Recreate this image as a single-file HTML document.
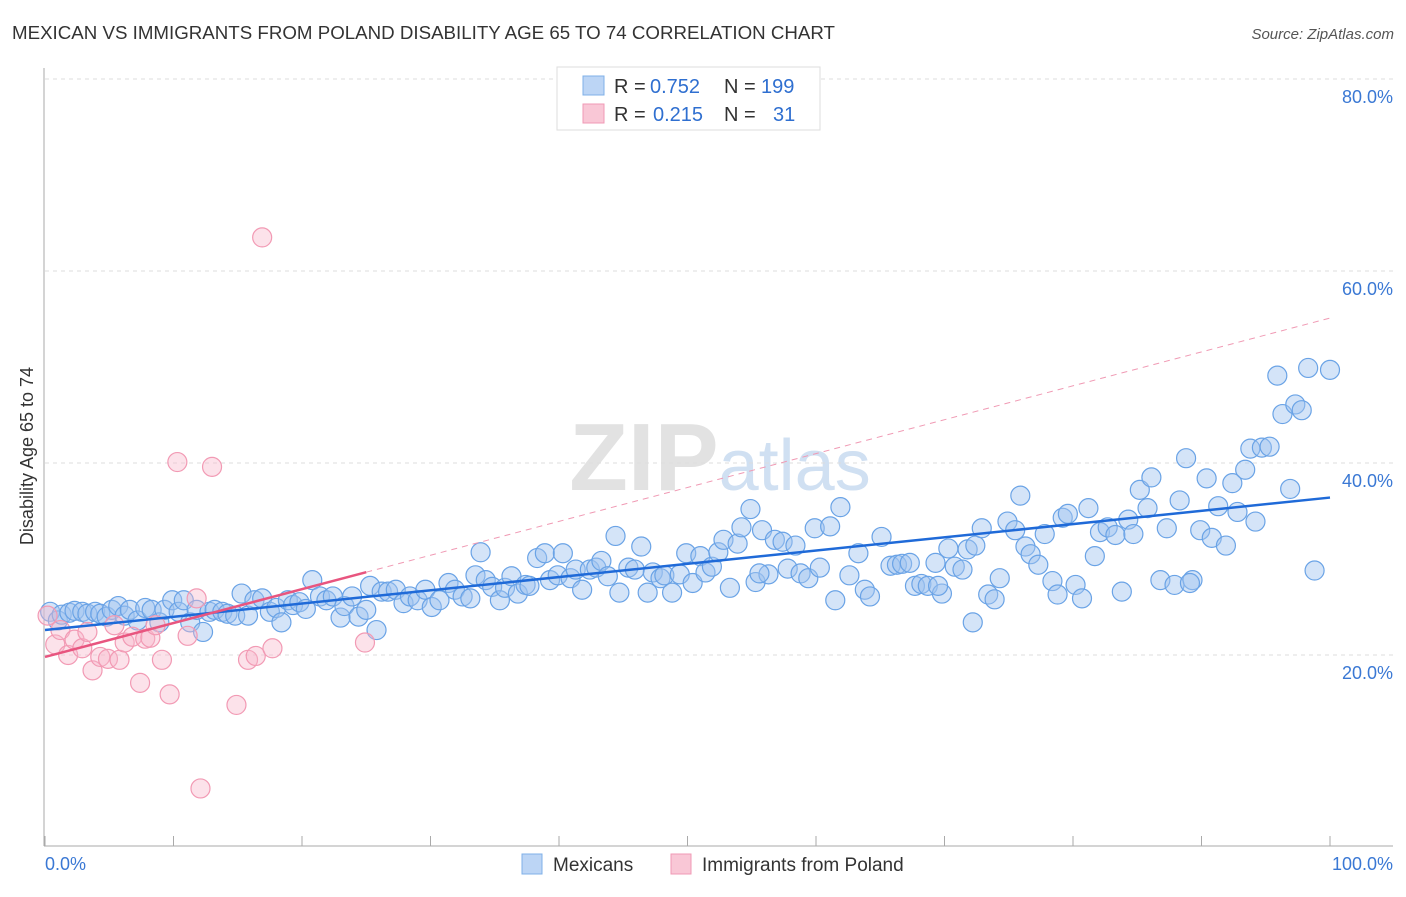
<!DOCTYPE html>
<html><head><meta charset="utf-8"><style>
body{margin:0;background:#fff;font-family:"Liberation Sans",sans-serif;}
svg text{font-family:"Liberation Sans",sans-serif;}
</style></head><body>
<svg id="chart" width="1406" height="892" viewBox="0 0 1406 892" xmlns="http://www.w3.org/2000/svg">
<text x="12" y="39" font-size="18" fill="#333" textLength="823" lengthAdjust="spacingAndGlyphs">MEXICAN VS IMMIGRANTS FROM POLAND DISABILITY AGE 65 TO 74 CORRELATION CHART</text>
<text x="1394" y="39" font-size="15" fill="#555" font-style="italic" text-anchor="end">Source: ZipAtlas.com</text>
<text x="720" y="490" font-size="96" fill="#e2e2e2" text-anchor="middle" font-family="Liberation Serif"><tspan font-weight="bold">ZIP</tspan><tspan fill="#d0e0f2" font-family="Liberation Sans" font-size="72">atlas</tspan></text>
<g id="grid"></g>
<g id="axes"></g>
<g id="pts"></g>
<g id="trends"></g>
<text transform="translate(33,456) rotate(-90)" font-size="18" fill="#333" text-anchor="middle">Disability Age 65 to 74</text>
<g>
<rect x="557" y="67" width="263" height="63" fill="#fff" stroke="#ddd"/>
<rect x="583" y="76" width="21" height="19" fill="#bcd5f5" stroke="#7fb0e8"/>
<rect x="583" y="104" width="21" height="19" fill="#f9c7d6" stroke="#f09ab5"/>
<text x="614" y="93" font-size="20" fill="#333">R =</text>
<text x="650" y="93" font-size="20" fill="#2f6fd0">0.752</text>
<text x="724" y="93" font-size="20" fill="#333">N =</text>
<text x="761" y="93" font-size="20" fill="#2f6fd0">199</text>
<text x="614" y="121" font-size="20" fill="#333">R =</text>
<text x="653" y="121" font-size="20" fill="#2f6fd0">0.215</text>
<text x="724" y="121" font-size="20" fill="#333">N =</text>
<text x="773" y="121" font-size="20" fill="#2f6fd0">31</text>
</g>
<g>
<rect x="522" y="854" width="20" height="20" fill="#bcd5f5" stroke="#7fb0e8"/>
<text x="553" y="871" font-size="19" fill="#333">Mexicans</text>
<text x="702" y="871" font-size="19" fill="#333">Immigrants from Poland</text>
<rect x="671" y="854" width="20" height="20" fill="#f9c7d6" stroke="#f09ab5"/>
</g>
</svg>
<script>
const blueX=[0.4,1.0,1.3,1.9,2.3,2.9,3.3,3.9,4.3,4.8,5.2,5.7,6.2,6.6,7.2,7.8,8.3,8.9,9.3,9.9,10.4,10.8,11.3,11.8,12.3,12.8,13.2,13.8,14.2,14.8,15.3,15.8,16.3,16.9,17.5,18.0,18.4,18.9,19.3,19.8,20.3,20.8,21.4,21.9,22.4,23.0,23.3,23.9,24.4,25.0,25.3,25.8,26.2,26.7,27.3,27.9,28.4,29.0,29.6,30.1,30.7,31.4,31.9,32.5,33.1,33.5,33.9,34.3,34.8,35.4,35.8,36.3,36.8,37.4,37.7,38.3,38.9,39.3,39.9,40.3,40.9,41.3,41.8,42.4,42.9,43.3,43.8,44.4,44.7,45.4,45.9,46.4,46.9,47.3,47.9,48.2,48.8,49.4,49.9,50.4,51.0,51.4,51.9,52.4,52.8,53.3,53.9,54.2,54.9,55.3,55.8,56.3,56.8,57.4,57.8,58.4,58.8,59.4,59.9,60.3,61.1,61.5,61.9,62.6,63.3,63.8,64.2,65.1,65.8,66.3,66.7,67.3,67.7,68.2,68.7,69.3,69.8,70.3,70.8,71.4,71.8,72.4,72.9,73.4,73.9,74.3,74.9,75.5,75.9,76.3,76.7,77.3,77.8,78.4,78.8,79.2,79.6,80.2,80.7,81.2,81.7,82.1,82.7,83.3,83.8,84.3,84.7,85.2,85.8,86.1,86.8,87.3,87.9,88.3,88.8,89.3,89.9,90.4,90.8,91.3,91.9,92.4,92.8,93.4,93.8,94.2,94.7,95.3,95.9,96.3,96.9,97.3,97.8,98.3,98.8,100.0,72.2,69.5,55.6,89.1];
const blueY=[24.5,23.6,24.2,24.4,24.6,24.5,24.3,24.5,24.3,24.0,24.7,25.1,24.1,24.7,23.6,24.9,24.7,23.4,24.7,25.7,24.5,25.7,23.4,24.7,22.4,24.5,24.7,24.5,24.3,24.1,26.4,24.1,25.7,25.9,24.5,24.9,23.4,25.7,25.2,25.5,24.8,27.8,26.1,25.7,26.1,23.9,25.1,26.1,24.0,24.7,27.2,22.6,26.6,26.6,26.8,25.4,26.1,25.7,26.8,25.0,25.7,27.5,26.8,26.1,25.9,28.3,30.7,27.8,27.1,25.7,27.0,28.2,26.4,27.3,27.2,30.1,30.6,27.8,28.3,30.6,28.0,28.9,26.8,28.9,29.1,29.8,28.2,32.4,26.5,29.1,28.9,31.3,26.5,28.6,28.0,28.3,26.5,28.4,30.6,27.5,30.3,28.6,29.2,30.7,32.0,27.0,31.6,33.3,35.2,27.6,33.0,28.4,32.0,31.8,29.0,31.4,28.5,28.0,33.2,29.1,33.4,25.7,35.4,28.3,30.6,26.8,26.1,32.3,29.3,29.4,29.5,29.6,27.2,27.4,27.2,29.6,26.4,31.1,29.2,28.9,31.0,31.4,33.2,26.3,25.8,28.0,33.9,33.0,36.6,31.3,30.5,29.4,32.6,27.7,26.3,34.3,34.7,27.3,25.9,35.3,30.3,32.8,33.3,32.5,26.6,34.1,32.6,37.2,35.3,38.5,27.8,33.2,27.3,36.1,40.5,27.8,33.0,38.4,32.2,35.5,31.4,37.9,34.9,39.3,41.5,33.9,41.6,41.7,49.1,45.1,37.3,46.1,45.5,49.9,28.8,49.7,23.4,27.2,28.5,27.5];
const pinkX=[0.2,0.8,1.2,1.8,2.3,2.9,3.3,3.7,4.3,4.9,5.4,5.8,6.2,6.8,7.4,7.8,8.2,8.6,9.1,9.7,10.3,11.1,11.8,12.1,13.0,14.9,15.8,16.4,16.9,17.7,24.9];
const pinkY=[24.1,21.1,22.6,20.0,21.6,20.7,22.4,18.4,19.8,19.6,23.1,19.5,21.3,21.9,17.1,21.7,21.8,23.1,19.5,15.9,40.1,22.0,25.9,6.1,39.6,14.8,19.5,19.9,63.5,20.7,21.3];
const blueTrend=[22.6,36.4];
const pinkTrend=[19.8,55.1];
const pinkSolidEnd=25;
const yTicks=[20,40,60,80];
const xTickLabels=["0.0%","100.0%"];

const NS="http://www.w3.org/2000/svg";
const sx=v=>45+v*12.85, sy=v=>847-v*9.6;
function mk(tag,attrs,parent){const e=document.createElementNS(NS,tag);for(const k in attrs)e.setAttribute(k,attrs[k]);parent.appendChild(e);return e;}
const grid=document.getElementById('grid'),axes=document.getElementById('axes'),pts=document.getElementById('pts'),tr=document.getElementById('trends');
yTicks.forEach(t=>{
  const l=mk('line',{x1:45,x2:1393,y1:sy(t),y2:sy(t),stroke:'#ddd','stroke-dasharray':'4,4'},grid);
  
  
  const tx=mk('text',{x:1393,y:sy(t)+24,'font-size':18,fill:'#3a78d4','text-anchor':'end'},grid);
  tx.textContent=t.toFixed(1)+'%';
  
  
});
const ya=mk('line',{x1:44,x2:44,y1:68,y2:846,stroke:'#aaa'},axes);


const xa=mk('line',{x1:44,x2:1393,y1:846,y2:846,stroke:'#aaa'},axes);


for(let i=0;i<=10;i++){
  const t=mk('line',{x1:sx(i*10),x2:sx(i*10),y1:836,y2:846,stroke:'#aaa'},axes);
  
  
}
const xl0=mk('text',{x:45,y:870,'font-size':18,fill:'#3a78d4'},axes);xl0.textContent=xTickLabels[0];


const xl1=mk('text',{x:1393,y:870,'font-size':18,fill:'#3a78d4','text-anchor':'end'},axes);xl1.textContent=xTickLabels[1];


blueX.forEach((x,i)=>{
  const c=mk('circle',{cx:sx(x),cy:sy(blueY[i]),r:9.5,fill:'rgba(160,196,240,0.45)',stroke:'#6aa3e6','stroke-width':1.2},pts);
  
  
});
pinkX.forEach((x,i)=>{
  const c=mk('circle',{cx:sx(x),cy:sy(pinkY[i]),r:9.5,fill:'rgba(248,182,202,0.4)',stroke:'#f29ab4','stroke-width':1.2},pts);
  
  
});
const bt=mk('line',{x1:sx(0),y1:sy(blueTrend[0]),x2:sx(100),y2:sy(blueTrend[1]),stroke:'#1f6ad8','stroke-width':2.5},tr);


const pe=pinkTrend[0]+(pinkTrend[1]-pinkTrend[0])*pinkSolidEnd/100;
const pt=mk('line',{x1:sx(0),y1:sy(pinkTrend[0]),x2:sx(pinkSolidEnd),y2:sy(pe),stroke:'#e8557f','stroke-width':2.5},tr);


const pd=mk('line',{x1:sx(pinkSolidEnd),y1:sy(pe),x2:sx(100),y2:sy(pinkTrend[1]),stroke:'#f09ab4','stroke-width':1,'stroke-dasharray':'6,5'},tr);


</script>
</body></html>
